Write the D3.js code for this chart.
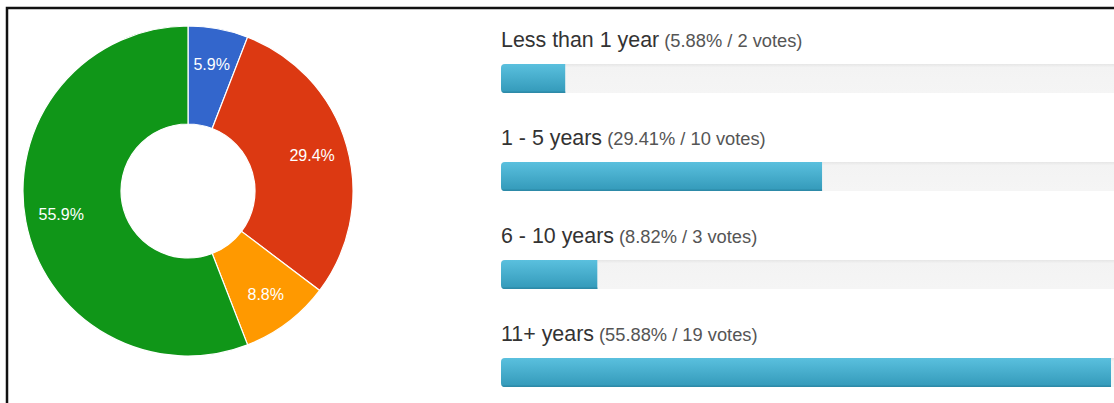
<!DOCTYPE html>
<html>
<head>
<meta charset="utf-8">
<script src="https://cdn.jsdelivr.net/npm/d3@7"></script>
<style>
  html, body { margin: 0; padding: 0; background: #fff; overflow: hidden; }
  text { font-family: "Liberation Sans", Arial, Helvetica, sans-serif; }
</style>
</head>
<body>
<div id="chart"></div>
<script>
// data ----------------------------------------------------------------------
const categories = ['Less than 1 year', '1 - 5 years', '6 - 10 years', '11+ years'];
const votes = [2, 10, 3, 19];
const sliceColors = ['#3366cc', '#dc3912', '#ff9900', '#109618'];

// size ----------------------------------------------------------------------
const width = 1114;
const height = 403;
const total = d3.sum(votes);
const pct1 = d3.format('.1%');
const pct2 = d3.format('.2%');

const svg = d3.select('#chart').append('svg')
  .attr('width', width)
  .attr('height', height);

const defs = svg.append('defs');
const grad = defs.append('linearGradient')
  .attr('id', 'barGrad')
  .attr('x1', 0).attr('y1', 0).attr('x2', 0).attr('y2', 1);
grad.append('stop').attr('offset', '0%').attr('stop-color', '#5ac0de');
grad.append('stop').attr('offset', '100%').attr('stop-color', '#3399b9');
const trackGrad = defs.append('linearGradient')
  .attr('id', 'trackGrad')
  .attr('x1', 0).attr('y1', 0).attr('x2', 0).attr('y2', 1);
trackGrad.append('stop').attr('offset', '0%').attr('stop-color', '#e6e6e6');
trackGrad.append('stop').attr('offset', '12%').attr('stop-color', '#f3f3f3');
trackGrad.append('stop').attr('offset', '100%').attr('stop-color', '#f5f5f5');

// frame ---------------------------------------------------------------------
svg.append('rect')
  .attr('x', 7).attr('y', 8)
  .attr('width', width + 20).attr('height', height + 20)
  .attr('fill', 'none')
  .attr('stroke', '#111')
  .attr('stroke-width', 2.5);

// donut ---------------------------------------------------------------------
const cx = 188, cy = 191;
const outerR = 165, innerR = 67;
const g = svg.append('g')
  .attr('transform', 'translate(' + cx + ',' + cy + ')');

const pie = d3.pie().value(d => d).sort(null);
const arcs = pie(votes);
const arc = d3.arc().outerRadius(outerR).innerRadius(innerR);
const labelArc = d3.arc().outerRadius(129).innerRadius(129);

g.selectAll('.slice')
  .data(arcs)
  .enter()
  .append('path')
  .attr('class', 'slice')
  .attr('d', arc)
  .attr('fill', (d, i) => sliceColors[i])
  .attr('stroke', '#fff')
  .attr('stroke-width', 1.2);

g.selectAll('.slice-label')
  .data(arcs)
  .enter()
  .append('text')
  .attr('class', 'slice-label')
  .attr('transform', d => 'translate(' + labelArc.centroid(d) + ')')
  .attr('dy', '0.35em')
  .attr('text-anchor', 'middle')
  .attr('font-size', '16px')
  .attr('fill', '#fff')
  .text(d => pct1(d.value / total));

// bars ----------------------------------------------------------------------
const x = d3.scaleLinear()
  .domain([0, d3.max(votes)])
  .range([501, 1111]);
const y = d3.scaleBand()
  .domain(categories)
  .range([16, 16 + 98 * categories.length]);
const barH = 29;
const barOff = 48;

const rows = svg.selectAll('.row')
  .data(categories)
  .enter()
  .append('g')
  .attr('class', 'row')
  .attr('transform', d => 'translate(0,' + y(d) + ')');

rows.append('clipPath')
  .attr('id', (d, i) => 'clip' + i)
  .append('rect')
  .attr('x', x(0)).attr('y', barOff)
  .attr('width', 640).attr('height', barH)
  .attr('rx', 4);

rows.append('rect')
  .attr('x', x(0)).attr('y', barOff)
  .attr('width', 640).attr('height', barH)
  .attr('rx', 4)
  .attr('fill', 'url(#trackGrad)');

const barG = rows.append('g')
  .attr('clip-path', (d, i) => 'url(#clip' + i + ')');
barG.append('rect')
  .attr('x', x(0)).attr('y', barOff)
  .attr('width', (d, i) => x(votes[i]) - x(0))
  .attr('height', barH)
  .attr('fill', 'url(#barGrad)');
barG.append('rect')
  .attr('x', x(0)).attr('y', barOff + barH - 1.5)
  .attr('width', (d, i) => x(votes[i]) - x(0))
  .attr('height', 1.5)
  .attr('fill', '#2d8aa8');

const label = rows.append('text')
  .attr('x', x(0))
  .attr('y', 31)
  .attr('fill', '#333');
label.append('tspan')
  .attr('font-size', '21.4px')
  .text(d => d);
label.append('tspan')
  .attr('font-size', '18.3px')
  .attr('fill', '#555')
  .text((d, i) => ' (' + pct2(votes[i] / total) + ' / ' + votes[i] + ' votes)');
</script>
</body>
</html>
